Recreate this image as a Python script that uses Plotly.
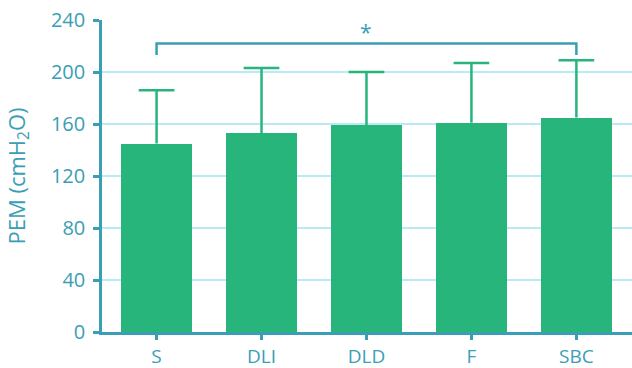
import plotly.graph_objects as go

categories = ["S", "DLI", "DLD", "F", "SBC"]
pem_mean = [145, 153, 159, 161, 165]
pem_sd = [41, 50, 41, 46, 44]
y_ticks = [0, 40, 80, 120, 160, 200, 240]

bar_color = "#27B57C"
axis_color = "#3A9EB4"
grid_color = "#B9EBF4"
font_family = "Open Sans, Liberation Sans, sans-serif"

xs = list(range(len(categories)))
bar_width = 0.68
cap_half = 0.17

fig = go.Figure()
fig.add_trace(go.Bar(
    x=xs, y=pem_mean, width=bar_width,
    marker=dict(color=bar_color, line=dict(width=0)),
    showlegend=False,
))

# upper-only error whiskers (SD) with caps
ex, ey = [], []
for x, m, s in zip(xs, pem_mean, pem_sd):
    top = m + s
    ex += [x, x, None, x - cap_half, x + cap_half, None]
    ey += [m, top, None, top, top, None]
fig.add_trace(go.Scatter(
    x=ex, y=ey, mode="lines",
    line=dict(color=bar_color, width=2.5),
    showlegend=False, hoverinfo="skip",
))

# significance bracket between S and SBC
fig.add_trace(go.Scatter(
    x=[0, 0, 4, 4], y=[213, 222, 222, 213],
    mode="lines", line=dict(color=axis_color, width=2.5),
    showlegend=False, hoverinfo="skip",
))
fig.add_annotation(x=2, y=231, text="*", showarrow=False,
                   font=dict(family=font_family, size=21, color=axis_color))

fig.update_layout(
    width=632, height=368,
    margin=dict(l=102, r=0, t=20, b=36),
    plot_bgcolor="white", paper_bgcolor="white",
    bargap=0,
    font=dict(family=font_family, color=axis_color, size=20),
)
fig.update_xaxes(
    range=[-0.52, 4.53], automargin=False,
    tickmode="array", tickvals=xs, ticktext=categories,
    showline=True, linecolor=axis_color, linewidth=2.5,
    ticks="outside", ticklen=5, tickwidth=2.5, tickcolor=axis_color,
    showgrid=False, zeroline=False,
    tickfont=dict(size=19, color=axis_color),
    ticklabelstandoff=0,
)
fig.update_yaxes(
    range=[0, 240], automargin=False,
    tickmode="array", tickvals=y_ticks,
    showline=True, linecolor=axis_color, linewidth=2.5,
    ticks="outside", ticklen=6, tickwidth=2.5, tickcolor=axis_color,
    showgrid=True, gridcolor=grid_color, gridwidth=2,
    zeroline=False,
    tickfont=dict(size=20, color=axis_color),
    ticklabelstandoff=4,
    title=dict(text="PEM (cmH<sub>2</sub>O)", font=dict(size=22, color=axis_color), standoff=20),
)

fig.write_html("out.html")
